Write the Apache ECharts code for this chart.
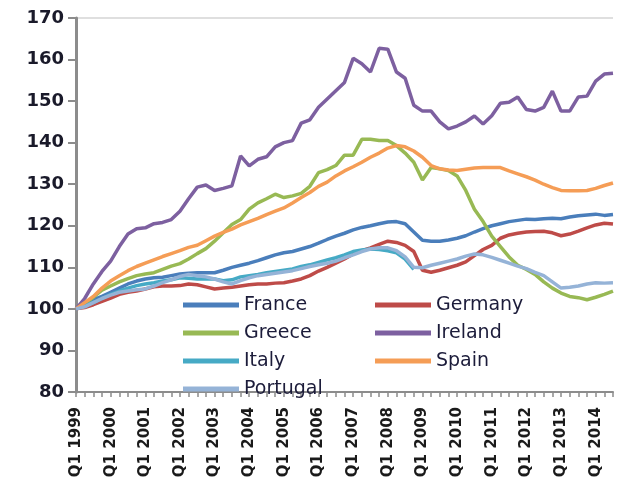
<!DOCTYPE html>
<html>
<head>
<meta charset="utf-8">
<script src="https://cdn.jsdelivr.net/npm/echarts@6/dist/echarts.min.js"></script>
<style>
  html, body { margin: 0; padding: 0; background: #fff; }
  #chart { width: 619px; height: 482px; }
</style>
</head>
<body>
<div id="chart"></div>
<script>
// quarters Q1 1999 .. Q3 2014
var quarters = []
for (var yr = 1999; yr <= 2014; yr++) {
  for (var q = 1; q <= 4; q++) {
    if (yr === 2014 && q > 3) break
    quarters.push('Q' + q + ' ' + yr)
  }
}

var france = [100, 101, 102.2, 103, 104, 105, 106, 106.7, 107.2, 107.5, 107.6, 108, 108.4, 108.6, 108.7, 108.7,
  108.7, 109.3, 110, 110.5, 111, 111.6, 112.3, 113, 113.5, 113.8, 114.4, 115, 115.8, 116.7, 117.5, 118.2,
  119, 119.6, 120, 120.5, 120.9, 121, 120.5, 118.5, 116.5, 116.3, 116.3, 116.6, 117, 117.6, 118.5, 119.3,
  120, 120.5, 121, 121.3, 121.6, 121.5, 121.7, 121.8, 121.7, 122.1, 122.4, 122.6, 122.8, 122.5, 122.7]

var germany = [100, 100.3, 101, 101.8, 102.6, 103.5, 104, 104.3, 104.8, 105.3, 105.5, 105.5, 105.6, 106, 105.8, 105.3,
  104.8, 105, 105.2, 105.5, 105.8, 106, 106, 106.2, 106.3, 106.7, 107.2, 108, 109.1, 110, 111, 112,
  113.2, 114, 114.7, 115.5, 116.3, 116, 115.3, 113.8, 109.3, 108.8, 109.3, 109.9, 110.5, 111.3, 112.8, 114.3,
  115.3, 117, 117.8, 118.2, 118.5, 118.6, 118.7, 118.3, 117.6, 118, 118.7, 119.5, 120.2, 120.6, 120.4]

var greece = [100, 101.3, 102.8, 104.5, 105.5, 106.5, 107.3, 108, 108.4, 108.7, 109.5, 110.3, 110.9, 112, 113.3, 114.5,
  116.3, 118.3, 120.3, 121.5, 124, 125.5, 126.5, 127.6, 126.8, 127.2, 127.8, 129.5, 132.8, 133.5, 134.5, 137,
  137, 140.8, 140.8, 140.5, 140.5, 139.3, 137.5, 135.3, 131, 134, 133.7, 133.3, 132, 128.5, 124, 121,
  117.5, 115, 112.5, 110.5, 109.5, 108.3, 106.5, 105, 103.8, 103, 102.7, 102.2, 102.8, 103.5, 104.3]

var ireland = [100, 102.5, 106, 109, 111.5, 115, 118, 119.3, 119.5, 120.5, 120.8, 121.5, 123.5, 126.5, 129.3, 129.8,
  128.5, 129, 129.6, 136.8, 134.4, 136, 136.6, 139, 140, 140.5, 144.7, 145.5, 148.5, 150.5, 152.5, 154.5,
  160.3, 159, 157, 162.7, 162.5, 157, 155.5, 149, 147.6, 147.6, 145, 143.3, 144, 145, 146.4, 144.5,
  146.5, 149.5, 149.7, 151, 148, 147.6, 148.5, 152.4, 147.6, 147.6, 151, 151.2, 154.8, 156.5, 156.7]

var italy = [100, 100.7, 101.5, 102.5, 103.5, 104.3, 105, 105.6, 106, 106.3, 106.7, 107, 107.5, 107.4, 107.2, 107.2,
  107.2, 106.8, 107, 107.7, 108, 108.3, 108.7, 109, 109.3, 109.6, 110.2, 110.6, 111.2, 111.8, 112.3, 113,
  113.8, 114.2, 114.4, 114.3, 114, 113.5, 112, 109.5]

var spain = [100, 101.5, 103, 105, 106.7, 108, 109.2, 110.2, 111, 111.8, 112.6, 113.3, 114, 114.8, 115.3, 116.4,
  117.5, 118.4, 119.2, 120.2, 121, 121.8, 122.7, 123.5, 124.3, 125.5, 126.8, 128, 129.5, 130.5, 132, 133.2,
  134.2, 135.3, 136.5, 137.5, 138.7, 139.3, 139, 138, 136.5, 134.5, 133.7, 133.4, 133.3, 133.6, 133.9, 134,
  134, 134, 133.2, 132.5, 131.8, 131, 130, 129.2, 128.5, 128.4, 128.4, 128.5, 129, 129.7, 130.3]

var portugal = [100, 100.5, 101.5, 102.5, 103.3, 104, 104.3, 104.6, 104.8, 105.5, 106.3, 107, 107.8, 108.3, 108, 107.7,
  107.2, 106.5, 106, 106.8, 107.5, 108, 108.3, 108.6, 108.9, 109.2, 109.7, 110.2, 110.6, 111, 111.5, 112.3,
  113, 113.8, 114.4, 114.7, 114.7, 114, 112.5, 110, 109.9, 110.5, 111, 111.5, 112, 112.7, 113.2, 113,
  112.4, 111.7, 111, 110.3, 109.7, 108.8, 108, 106.5, 105, 105.2, 105.5, 106, 106.3, 106.2, 106.3]

var seriesDefs = [
  { name: 'France', color: '#4a7ebb', data: france },
  { name: 'Germany', color: '#be4b48', data: germany },
  { name: 'Greece', color: '#98b954', data: greece },
  { name: 'Ireland', color: '#7d60a0', data: ireland },
  { name: 'Italy', color: '#46aac5', data: italy },
  { name: 'Spain', color: '#f59d56', data: spain },
  { name: 'Portugal', color: '#95b3d7', data: portugal }
]

var seriesList = seriesDefs.map(function (s) {
  return {
    name: s.name,
    type: 'line',
    data: s.data,
    color: s.color,
    symbol: 'none',
    smooth: false,
    lineStyle: { width: 3.5 }
  }
})

var legendText = { color: '#1c1c3a', fontSize: 19, fontFamily: 'DejaVu Sans', lineHeight: 20 }

var myChart = echarts.init(document.getElementById('chart'))
myChart.setOption({
  animation: false,
  grid: { left: 76, right: 6, top: 18, bottom: 90 },
  legend: [
    {
      data: ['France', 'Greece', 'Italy', 'Portugal'],
      orient: 'vertical',
      left: 178,
      top: 290,
      icon: 'rect',
      itemWidth: 56,
      itemHeight: 5,
      itemGap: 8,
      textStyle: legendText
    },
    {
      data: ['Germany', 'Ireland', 'Spain'],
      orient: 'vertical',
      left: 370,
      top: 290,
      icon: 'rect',
      itemWidth: 56,
      itemHeight: 5,
      itemGap: 8,
      textStyle: legendText
    }
  ],
  xAxis: {
    type: 'category',
    boundaryGap: false,
    data: quarters,
    axisLine: { lineStyle: { color: '#8c8c8c', width: 2 } },
    axisTick: {
      show: true,
      interval: 0,
      length: 5,
      lineStyle: { color: '#8c8c8c', width: 1.5 }
    },
    axisLabel: {
      interval: function (idx) { return idx % 4 === 0 },
      rotate: 90,
      margin: 15,
      color: '#1a1a1a',
      fontSize: 15,
      fontWeight: 'bold',
      fontFamily: 'DejaVu Sans'
    },
    splitLine: { show: false }
  },
  yAxis: {
    type: 'value',
    min: 80,
    max: 170,
    interval: 10,
    axisLine: { show: true, lineStyle: { color: '#8c8c8c', width: 3 } },
    axisTick: { show: true, length: 8, lineStyle: { color: '#8c8c8c', width: 2 } },
    axisLabel: {
      color: '#1a1a2a',
      fontSize: 18,
      fontWeight: 'bold',
      fontFamily: 'DejaVu Sans',
      margin: 12
    },
    splitLine: {
      show: true,
      lineStyle: {
        color: ['rgba(0,0,0,0)', 'rgba(0,0,0,0)', 'rgba(0,0,0,0)', 'rgba(0,0,0,0)', 'rgba(0,0,0,0)',
          'rgba(0,0,0,0)', 'rgba(0,0,0,0)', 'rgba(0,0,0,0)', 'rgba(0,0,0,0)', '#d4d4d4'],
        width: 1.5
      }
    }
  },
  series: seriesList
})
</script>
</body>
</html>
